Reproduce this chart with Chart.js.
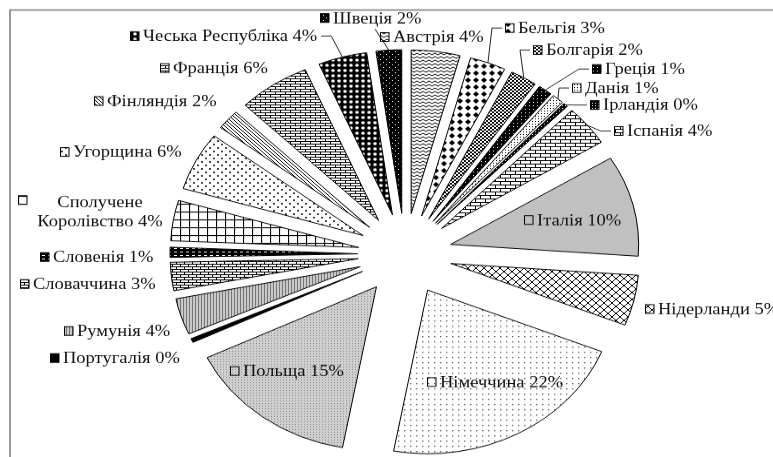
<!DOCTYPE html>
<html>
<head>
<meta charset="utf-8">
<script src="https://cdn.jsdelivr.net/npm/chart.js@4"></script>
<style>
html, body { margin: 0; padding: 0; background: #fff; overflow: hidden; }
#wrap { width: 773px; height: 525px; transform: scale(1, 0.8705); transform-origin: 0 0; }
</style>
</head>
<body>
<div id="wrap"><canvas id="grafico" width="773" height="525"></canvas></div>
<script>
// дані: частка країн, %
var countries = ['Австрія', 'Бельгія', 'Болгарія', 'Греція', 'Данія', 'Ірландія', 'Іспанія', 'Італія',
    'Нідерланди', 'Німеччина', 'Польща', 'Португалія', 'Румунія', 'Словаччина', 'Словенія',
    'Сполучене Королівство', 'Угорщина', 'Фінляндія', 'Франція', 'Чеська Республіка', 'Швеція'];
var shares = [4.2, 3.1, 2.3, 1.2, 1.0, 0.4, 4.0, 10.0, 5.0, 21.8, 15.0, 0.4, 3.6, 2.8, 1.0, 4.0, 5.8, 2.0, 6.2, 4.2, 2.2];

// розташування підписів (px на картинці)
var labelPos = [
    {x: 380, y: 37},
    {x: 505, y: 28, lead: 'l'},
    {x: 533, y: 50, lead: 'l'},
    {x: 592, y: 69, lead: 'l'},
    {x: 572, y: 88, lead: 'l'},
    {x: 590, y: 105, lead: 'l'},
    {x: 614, y: 131, lead: 'l'},
    {x: 524, y: 220},
    {x: 645, y: 309},
    {x: 427, y: 382},
    {x: 230, y: 371},
    {x: 50, y: 358},
    {x: 64, y: 331},
    {x: 20, y: 284},
    {x: 40, y: 257},
    {x: 18, y: 200, wrap: true},
    {x: 60, y: 152},
    {x: 94, y: 101},
    {x: 160, y: 68},
    {x: 130, y: 36, lead: 'r'},
    {x: 320, y: 18, lead: 'b'}
];

var SY = 0.8705;
var gap = 47;

function tile(w, h, bg, draw) {
    var c = document.createElement('canvas');
    c.width = w;
    c.height = h;
    var g = c.getContext('2d');
    g.fillStyle = bg;
    g.fillRect(0, 0, w, h);
    g.fillStyle = '#000';
    g.strokeStyle = '#000';
    g.lineWidth = 1;
    if (draw) draw(g, w, h);
    return c;
}

function line(g, x1, y1, x2, y2) {
    g.beginPath();
    g.moveTo(x1, y1);
    g.lineTo(x2, y2);
    g.stroke();
}

function brick(w, h) {
    return function (g) {
        line(g, 0, 0.5, w, 0.5);
        line(g, 0, h / 2 + 0.5, w, h / 2 + 0.5);
        line(g, 0.5, 0, 0.5, h / 2);
        line(g, w / 2 + 0.5, h / 2, w / 2 + 0.5, h);
    };
}

var tiles = [
    tile(6, 4, '#fff', function (g) { g.beginPath(); g.moveTo(0, 3); g.lineTo(3, 1); g.lineTo(6, 3); g.stroke(); }),
    tile(8, 8, '#fff', function (g) { g.beginPath(); g.moveTo(4, 1); g.lineTo(7, 4); g.lineTo(4, 7); g.lineTo(1, 4); g.fill(); }),
    tile(4, 4, '#fff', function (g) { g.fillRect(0, 0, 2, 2); g.fillRect(2, 2, 2, 2); }),
    tile(4, 4, '#000', function (g) { g.fillStyle = '#fff'; g.fillRect(1, 1, 1, 1); }),
    tile(3, 3, '#fff', function (g) { g.fillRect(1, 1, 1, 1); }),
    tile(3, 3, '#000', function (g) { g.fillStyle = '#fff'; g.fillRect(1, 1, 1, 1); }),
    tile(10, 8, '#fff', brick(10, 8)),
    tile(4, 4, '#c0c0c0'),
    tile(8, 8, '#fff', function (g) { line(g, 0, 8, 8, 0); line(g, 0, 0, 8, 8); }),
    tile(6, 6, '#fff', function (g) { g.fillStyle = '#666'; g.fillRect(2, 2, 1.4, 1.4); }),
    tile(3, 3, '#cfcfcf', function (g) { g.fillStyle = '#888'; g.fillRect(1, 1, 1, 1); }),
    tile(4, 4, '#000'),
    tile(3, 3, '#c8c8c8', function (g) { g.fillStyle = '#777'; g.fillRect(0, 0, 1, 3); }),
    tile(8, 6, '#fff', brick(8, 6)),
    tile(6, 4, '#000', function (g) { g.fillStyle = '#fff'; g.fillRect(0, 1, 3, 1); }),
    tile(9, 9, '#fff', function (g) { g.lineWidth = 1.2; line(g, 0.5, 0, 0.5, 9); line(g, 0, 0.5, 9, 0.5); }),
    tile(8, 8, '#fff', function (g) { g.beginPath(); g.arc(2, 2, 1, 0, 7); g.fill(); g.beginPath(); g.arc(6, 6, 1, 0, 7); g.fill(); }),
    tile(4, 4, '#fff', function (g) { line(g, 0, 0, 4, 4); line(g, -1, 3, 1, 5); line(g, 3, -1, 5, 1); }),
    tile(10, 6, '#fff', brick(10, 6)),
    tile(6, 6, '#000', function (g) { g.fillStyle = '#fff'; g.beginPath(); g.arc(3, 3, 1.8, 0, 7); g.fill(); }),
    tile(6, 6, '#000', function (g) { g.fillStyle = '#fff'; g.fillRect(2, 2, 1, 1); g.fillRect(5, 5, 1, 1); })
];

var ctx = document.getElementById('grafico').getContext('2d');
var patterns = tiles.map(function (t) { return ctx.createPattern(t, 'repeat'); });

var total = shares.reduce(function (a, b) { return a + b; }, 0);

var explode = {
    id: 'explode',
    afterDatasetUpdate: function (chart, args) {
        args.meta.data.forEach(function (arc) {
            var mid = (arc.startAngle + arc.endAngle) / 2;
            arc.x += gap * Math.cos(mid);
            arc.y += gap * Math.sin(mid);
        });
    }
};

var frame = {
    id: 'frame',
    beforeDraw: function (chart) {
        var c = chart.ctx;
        c.save();
        c.strokeStyle = '#808080';
        c.lineWidth = 1.6;
        c.strokeRect(10, 10 / SY, 900, 700);
        c.restore();
    }
};

var etiquetas = {
    id: 'etiquetas',
    afterDatasetsDraw: function (chart) {
        var c = chart.ctx;
        var arcs = chart.getDatasetMeta(0).data;
        c.save();
        c.font = '18.5px "Liberation Serif", "Times New Roman", serif';
        c.textBaseline = 'middle';
        c.fillStyle = '#111';
        arcs.forEach(function (arc, i) {
            var p = labelPos[i];
            var y = p.y / SY;
            var pct = Math.round(shares[i] / total * 100) + '%';
            var texto = countries[i] + ' ' + pct;
            var tw;
            // ключ легенди
            c.fillStyle = patterns[i];
            c.fillRect(p.x, y - 5, 9, 10);
            c.strokeStyle = '#000';
            c.lineWidth = 1;
            c.strokeRect(p.x + 0.5, y - 5, 8.5, 10);
            c.fillStyle = '#111';
            if (p.wrap) {
                var partes = countries[i].split(' ');
                c.textAlign = 'center';
                c.fillText(partes[0], 100, y + 3 / SY);
                c.fillText(partes[1] + ' ' + pct, 100, y + 22 / SY);
                c.textAlign = 'left';
            } else {
                c.textAlign = 'left';
                c.fillText(texto, p.x + 13, y + 1);
            }
            tw = c.measureText(texto).width;
            if (p.lead) {
                var mid = (arc.startAngle + arc.endAngle) / 2;
                var tx = arc.x + arc.outerRadius * Math.cos(mid);
                var ty = arc.y + arc.outerRadius * Math.sin(mid);
                var sx, sy, bx;
                if (p.lead === 'l') { sx = p.x - 3; sy = y; bx = sx - 10; }
                else if (p.lead === 'r') { sx = p.x + 13 + tw + 4; sy = y; bx = sx + 10; }
                else { sx = p.x + 55; sy = y + 11 / SY; bx = sx; }
                c.strokeStyle = '#222';
                c.lineWidth = 1;
                c.beginPath();
                c.moveTo(sx, sy);
                c.lineTo(bx, sy);
                c.lineTo(tx, ty);
                c.stroke();
            }
        });
        c.restore();
    }
};

var grafico = new Chart(ctx, {
    type: 'pie',
    data: {
        labels: countries,
        datasets: [{
            data: shares,
            backgroundColor: patterns,
            borderColor: '#000',
            borderWidth: 1
        }]
    },
    options: {
        responsive: false,
        animation: false,
        events: [],
        radius: 188,
        layout: { padding: { left: 37, right: 0, top: 59, bottom: 0 } },
        plugins: {
            legend: { display: false },
            tooltip: { enabled: false }
        }
    },
    plugins: [explode, frame, etiquetas]
});
</script>
</body>
</html>
